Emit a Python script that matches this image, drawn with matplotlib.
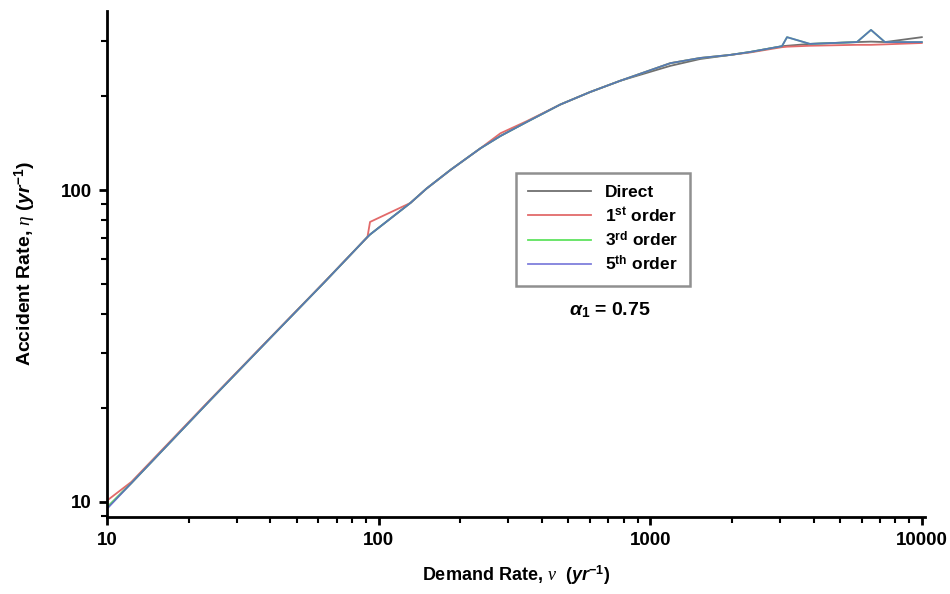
import numpy as np
import matplotlib.pyplot as plt
from matplotlib.ticker import FixedLocator, LogLocator, NullFormatter, FuncFormatter

plt.rcParams['font.family'] = ['Liberation Sans', 'DejaVu Sans']
plt.rcParams['mathtext.fontset'] = 'custom'
plt.rcParams['mathtext.rm'] = 'Liberation Sans'
plt.rcParams['mathtext.it'] = 'Liberation Serif:italic'
plt.rcParams['mathtext.bf'] = 'Liberation Sans:bold'
plt.rcParams['mathtext.sf'] = 'Liberation Sans:bold:italic'

# demand rate (yr^-1)
nu = [10, 12.3, 24, 40, 63, 91, 93, 131, 150, 184, 237, 281, 350, 467, 600, 776,
      1186, 1528, 1968, 2333, 3055, 3190, 3874, 5768, 6500, 7314, 10000]

# accident rate (yr^-1)
direct = [9.6, 11.5, 21.2, 33.6, 50.5, 70.7, 72.0, 90.9, 101, 116, 136, 149, 165, 188, 206, 224,
          250, 263, 271, 277, 289, 290, 294, 298, 299, 298, 309]
first = [10.1, 11.6, 21.3, 33.7, 50.6, 70.7, 79.0, 90.9, 101, 116, 136, 152, 166, 188, 206, 224,
         255, 265, 271, 276, 287, 288, 290, 292, 292, 293, 296]
third = [9.6, 11.5, 21.2, 33.6, 50.5, 70.7, 72.0, 90.9, 101, 116, 136, 149, 165, 188, 206, 224,
         255, 265, 271, 277, 289, 309, 294, 298, 326, 298, 298]
fifth = [9.5, 11.5, 21.2, 33.6, 50.5, 70.7, 72.0, 90.9, 101, 116, 136, 149, 165, 188, 206, 224,
         255, 265, 271, 277, 289, 309, 294, 298, 326, 298, 298]

fig = plt.figure(figsize=(9.5, 5.94), dpi=100)
ax = fig.add_axes([0.1126, 0.1296, 0.8614, 0.8526])

ax.plot(nu, direct, color='#707070', lw=1.3, label='Direct')
ax.plot(nu, first, color='#e26a6a', lw=1.3, label='1$^{\\mathbf{st}}$ order')
ax.plot(nu, third, color='#5fe35f', lw=1.3, label='3$^{\\mathbf{rd}}$ order')
ax.plot(nu, fifth, color='#5555d0', lw=1.3, alpha=0.75, label='5$^{\\mathbf{th}}$ order')

ax.set_xscale('log')
ax.set_yscale('log')
ax.set_xlim(10, 10300)
ax.set_ylim(8.95, 376)

ax.xaxis.set_major_locator(FixedLocator([10, 100, 1000, 10000]))
ax.yaxis.set_major_locator(FixedLocator([10, 100]))
ax.xaxis.set_minor_locator(LogLocator(base=10, subs=np.arange(2, 10)))
ax.yaxis.set_minor_locator(LogLocator(base=10, subs=np.arange(2, 10)))
fmt = FuncFormatter(lambda v, p: '%d' % round(v))
ax.xaxis.set_major_formatter(fmt)
ax.yaxis.set_major_formatter(fmt)
ax.xaxis.set_minor_formatter(NullFormatter())
ax.yaxis.set_minor_formatter(NullFormatter())

for s in ['top', 'right']:
    ax.spines[s].set_visible(False)
for s in ['left', 'bottom']:
    ax.spines[s].set_linewidth(2)
ax.tick_params(which='major', direction='out', length=6, width=2, labelsize=13.5, pad=5)
ax.tick_params(which='minor', direction='out', length=4, width=1.5)
for lab in ax.get_xticklabels() + ax.get_yticklabels():
    lab.set_fontweight('bold')

ax.set_xlabel('Demand Rate, $\\nu$  ($\\mathsf{yr}^{\\mathbf{-1}}$)', fontsize=13,
              fontweight='bold', labelpad=10)
ax.set_ylabel('Accident Rate, $\\eta$ ($\\mathsf{yr}^{\\mathbf{-1}}$)', fontsize=14,
              fontweight='bold', labelpad=16)

leg = ax.legend(loc='upper left', bbox_to_anchor=(0.5, 0.679), borderaxespad=0,
                fancybox=False, edgecolor='#909090', framealpha=1, handlelength=3.6,
                prop={'weight': 'bold', 'size': 12.5}, labelspacing=0.3, borderpad=0.7,
                handletextpad=0.8)
leg.get_frame().set_linewidth(1.8)

ax.text(0.642, 0.478, '$\\mathsf{\\alpha}_{\\mathbf{1}}\\,\\mathbf{=}\\,\\mathbf{0.75}$',
        transform=fig.transFigure, ha='center', va='center', fontsize=14)

fig.savefig('out.png', dpi=100)
